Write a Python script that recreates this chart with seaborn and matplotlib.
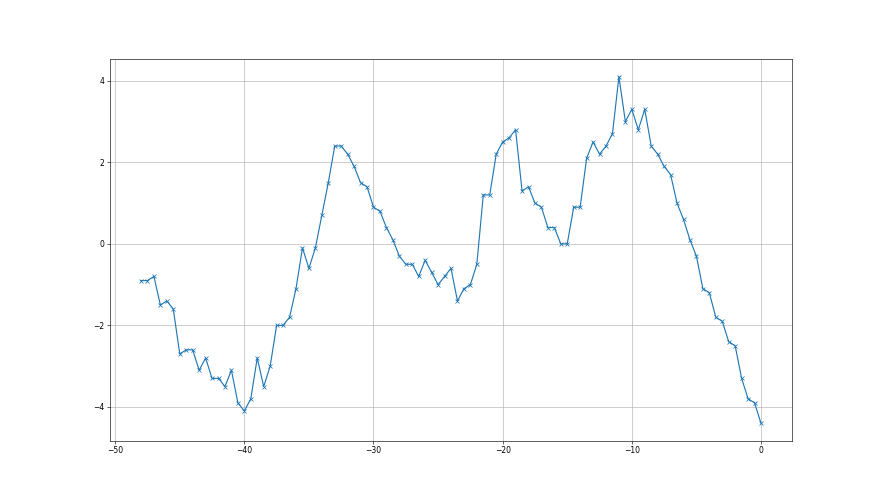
import numpy as np
import pandas as pd
import matplotlib
matplotlib.use('Agg')
import matplotlib.pyplot as plt
import seaborn as sns

# x positions: half steps from -48 up to 0
steps = [-48.0, -47.5, -47.0, -46.5, -46.0, -45.5, -45.0, -44.5, -44.0, -43.5,
         -43.0, -42.5, -42.0, -41.5, -41.0, -40.5, -40.0, -39.5, -39.0, -38.5,
         -38.0, -37.5, -37.0, -36.5, -36.0, -35.5, -35.0, -34.5, -34.0, -33.5,
         -33.0, -32.5, -32.0, -31.5, -31.0, -30.5, -30.0, -29.5, -29.0, -28.5,
         -28.0, -27.5, -27.0, -26.5, -26.0, -25.5, -25.0, -24.5, -24.0, -23.5,
         -23.0, -22.5, -22.0, -21.5, -21.0, -20.5, -20.0, -19.5, -19.0, -18.5,
         -18.0, -17.5, -17.0, -16.5, -16.0, -15.5, -15.0, -14.5, -14.0, -13.5,
         -13.0, -12.5, -12.0, -11.5, -11.0, -10.5, -10.0, -9.5, -9.0, -8.5,
         -8.0, -7.5, -7.0, -6.5, -6.0, -5.5, -5.0, -4.5, -4.0, -3.5,
         -3.0, -2.5, -2.0, -1.5, -1.0, -0.5, 0.0]

values = [-0.9, -0.9, -0.8, -1.5, -1.4, -1.6, -2.7, -2.6, -2.6, -3.1,
          -2.8, -3.3, -3.3, -3.5, -3.1, -3.9, -4.1, -3.8, -2.8, -3.5,
          -3.0, -2.0, -2.0, -1.8, -1.1, -0.1, -0.6, -0.1, 0.7, 1.5,
          2.4, 2.4, 2.2, 1.9, 1.5, 1.4, 0.9, 0.8, 0.4, 0.1,
          -0.3, -0.5, -0.5, -0.8, -0.4, -0.7, -1.0, -0.8, -0.6, -1.4,
          -1.1, -1.0, -0.5, 1.2, 1.2, 2.2, 2.5, 2.6, 2.8, 1.3,
          1.4, 1.0, 0.9, 0.4, 0.4, 0.0, 0.0, 0.9, 0.9, 2.1,
          2.5, 2.2, 2.4, 2.7, 4.1, 3.0, 3.3, 2.8, 3.3, 2.4,
          2.2, 1.9, 1.7, 1.0, 0.6, 0.1, -0.3, -1.1, -1.2, -1.8,
          -1.9, -2.4, -2.5, -3.3, -3.8, -3.9, -4.4]

df = pd.DataFrame({'x': steps, 'y': values})

fig, ax = plt.subplots(figsize=(16, 9), dpi=55)
sns.lineplot(data=df, x='x', y='y', ax=ax, color='C0', marker='x',
             markersize=6, markeredgecolor='C0', markeredgewidth=1.0)
ax.grid(True)
ax.set_xlabel('')
ax.set_ylabel('')

plt.savefig('out.png', dpi=55)
